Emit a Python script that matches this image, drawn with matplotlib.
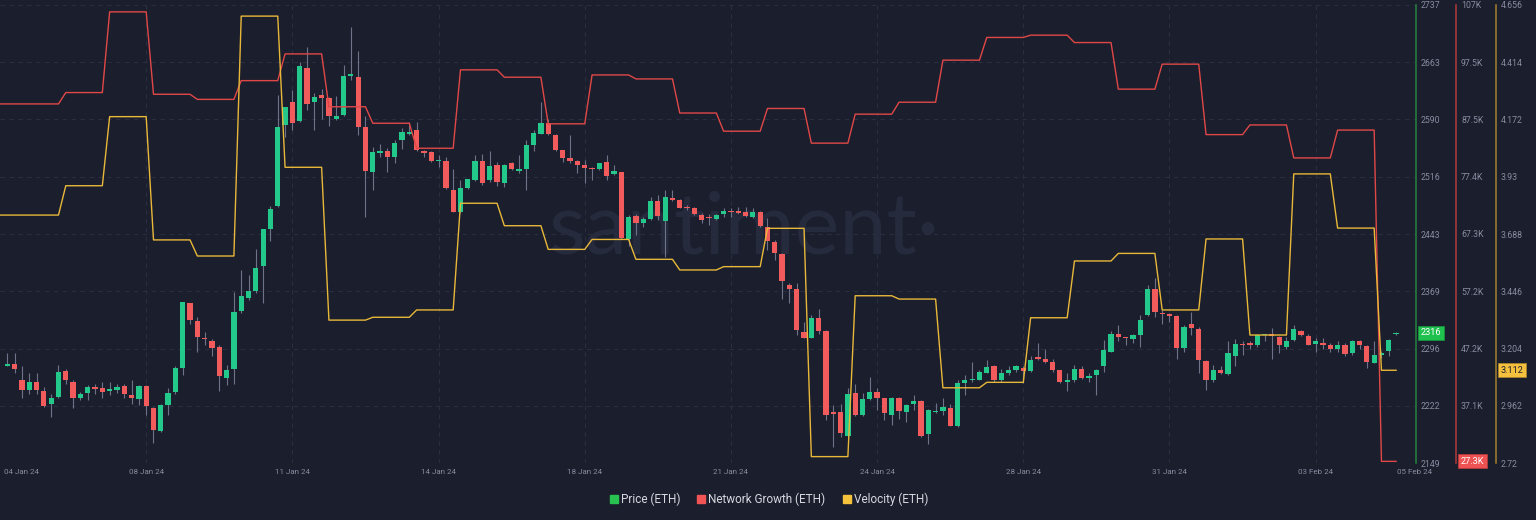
import numpy as np
import pandas as pd
import matplotlib
matplotlib.use("Agg")
import matplotlib.pyplot as plt
import matplotlib.dates as mdates
from matplotlib.lines import Line2D

plt.rcParams['font.family'] = ['Roboto', 'DejaVu Sans']

# 4h ETH candles, first one at 04 Jan 20:00
candle_start = "2024-01-04 20:00"
opens = [2274, 2276, 2255, 2243, 2253, 2242, 2225, 2234, 2267, 2253, 2233, 2239, 2246, 2245, 2242, 2243,
         2248, 2236, 2231, 2248, 2220, 2190, 2224, 2240, 2271, 2355, 2331, 2310, 2306, 2298, 2258, 2270,
         2344, 2361, 2370, 2402, 2449, 2479, 2583, 2612, 2588, 2656, 2612, 2621, 2618, 2591, 2596, 2646,
         2645, 2580, 2522, 2547, 2549, 2542, 2564, 2571, 2576, 2549, 2548, 2537, 2537, 2499, 2471, 2502,
         2512, 2537, 2512, 2531, 2509, 2534, 2524, 2527, 2557, 2572, 2585, 2570, 2551, 2540, 2537, 2531,
         2528, 2527, 2535, 2520, 2522, 2436, 2466, 2457, 2462, 2485, 2460, 2489, 2487, 2478, 2476, 2467,
         2465, 2462, 2469, 2473, 2472, 2471, 2465, 2471, 2452, 2433, 2417, 2378, 2373, 2317, 2310, 2335,
         2318, 2214, 2214, 2184, 2239, 2210, 2231, 2240, 2232, 2210, 2232, 2215, 2225, 2229, 2186, 2215,
         2216, 2220, 2196, 2252, 2255, 2256, 2265, 2273, 2256, 2264, 2268, 2271, 2267, 2285, 2282, 2279,
         2268, 2253, 2255, 2270, 2258, 2262, 2273, 2292, 2315, 2310, 2308, 2313, 2339, 2373, 2342, 2340,
         2338, 2297, 2327, 2321, 2280, 2255, 2268, 2263, 2287, 2301, 2303, 2300, 2313, 2315, 2311, 2298,
         2307, 2319, 2312, 2302, 2303, 2300, 2295, 2300, 2290, 2305, 2299, 2278, 2288, 2293, 2314]
highs = [2290, 2290, 2273, 2264, 2265, 2247, 2238, 2275, 2270, 2255, 2240, 2249, 2251, 2253, 2253, 2251,
         2251, 2255, 2249, 2249, 2221, 2225, 2245, 2273, 2356, 2355, 2337, 2317, 2308, 2300, 2275, 2369,
         2397, 2390, 2424, 2450, 2479, 2621, 2606, 2628, 2664, 2683, 2624, 2629, 2619, 2620, 2660, 2709,
         2678, 2594, 2555, 2558, 2553, 2564, 2579, 2587, 2587, 2551, 2549, 2544, 2542, 2527, 2512, 2514,
         2544, 2546, 2549, 2535, 2533, 2536, 2544, 2564, 2576, 2613, 2591, 2572, 2551, 2570, 2538, 2538,
         2529, 2534, 2544, 2531, 2523, 2467, 2469, 2465, 2491, 2493, 2499, 2499, 2488, 2480, 2478, 2470,
         2469, 2469, 2476, 2476, 2478, 2478, 2477, 2472, 2463, 2435, 2418, 2380, 2380, 2330, 2339, 2347,
         2320, 2223, 2225, 2245, 2250, 2239, 2260, 2245, 2233, 2234, 2234, 2225, 2236, 2230, 2218, 2226,
         2232, 2225, 2255, 2262, 2279, 2268, 2281, 2275, 2270, 2273, 2275, 2273, 2286, 2303, 2296, 2282,
         2269, 2264, 2275, 2273, 2264, 2270, 2307, 2318, 2326, 2311, 2315, 2339, 2377, 2386, 2345, 2342,
         2339, 2326, 2343, 2323, 2281, 2275, 2273, 2306, 2308, 2305, 2305, 2315, 2315, 2322, 2312, 2311,
         2326, 2320, 2314, 2310, 2310, 2303, 2305, 2303, 2307, 2307, 2300, 2306, 2293, 2308, 2317]
lows = [2273, 2265, 2233, 2238, 2238, 2221, 2208, 2232, 2251, 2219, 2230, 2230, 2238, 2232, 2236, 2239,
        2232, 2225, 2223, 2210, 2175, 2189, 2210, 2238, 2262, 2328, 2292, 2300, 2286, 2242, 2249, 2250,
        2341, 2358, 2367, 2354, 2434, 2478, 2568, 2576, 2587, 2602, 2577, 2591, 2582, 2589, 2594, 2641,
        2570, 2465, 2500, 2542, 2522, 2534, 2552, 2570, 2550, 2542, 2536, 2529, 2501, 2471, 2470, 2501,
        2511, 2506, 2510, 2504, 2503, 2525, 2521, 2499, 2549, 2571, 2570, 2550, 2536, 2534, 2521, 2509,
        2512, 2525, 2512, 2519, 2437, 2427, 2442, 2452, 2461, 2461, 2414, 2486, 2476, 2474, 2467, 2457,
        2454, 2461, 2465, 2465, 2469, 2465, 2464, 2452, 2422, 2410, 2360, 2354, 2313, 2309, 2309, 2315,
        2204, 2170, 2183, 2183, 2209, 2209, 2230, 2217, 2204, 2198, 2206, 2202, 2217, 2183, 2173, 2213,
        2210, 2196, 2195, 2236, 2253, 2255, 2264, 2253, 2253, 2262, 2266, 2252, 2266, 2281, 2277, 2266,
        2252, 2241, 2253, 2257, 2253, 2236, 2266, 2291, 2305, 2300, 2303, 2298, 2338, 2337, 2328, 2330,
        2282, 2292, 2313, 2264, 2243, 2253, 2263, 2262, 2273, 2288, 2296, 2298, 2305, 2283, 2290, 2296,
        2305, 2312, 2300, 2292, 2296, 2292, 2291, 2286, 2288, 2296, 2271, 2277, 2284, 2286, 2313]
closes = [2276, 2270, 2243, 2253, 2243, 2222, 2233, 2266, 2255, 2233, 2237, 2247, 2244, 2240, 2244, 2247,
          2238, 2232, 2248, 2222, 2191, 2224, 2239, 2271, 2356, 2332, 2311, 2308, 2297, 2261, 2268, 2343,
          2363, 2370, 2399, 2450, 2475, 2581, 2606, 2586, 2659, 2610, 2619, 2618, 2594, 2594, 2646, 2648,
          2580, 2524, 2548, 2550, 2542, 2560, 2574, 2574, 2551, 2547, 2537, 2538, 2502, 2471, 2502, 2513,
          2537, 2508, 2530, 2510, 2531, 2526, 2526, 2557, 2573, 2586, 2571, 2551, 2541, 2537, 2531, 2528,
          2526, 2534, 2517, 2524, 2438, 2465, 2457, 2462, 2486, 2466, 2490, 2487, 2477, 2476, 2469, 2461,
          2464, 2467, 2472, 2471, 2470, 2466, 2471, 2453, 2434, 2418, 2383, 2373, 2320, 2310, 2335, 2318,
          2210, 2212, 2187, 2238, 2210, 2231, 2240, 2232, 2213, 2232, 2216, 2223, 2229, 2184, 2217, 2216,
          2221, 2197, 2252, 2255, 2257, 2266, 2272, 2256, 2264, 2268, 2273, 2267, 2281, 2282, 2279, 2268,
          2253, 2255, 2270, 2258, 2261, 2269, 2294, 2315, 2311, 2309, 2313, 2333, 2373, 2343, 2340, 2338,
          2297, 2323, 2322, 2281, 2255, 2268, 2264, 2290, 2302, 2300, 2300, 2313, 2315, 2312, 2300, 2306,
          2321, 2313, 2301, 2305, 2301, 2295, 2300, 2289, 2305, 2301, 2279, 2288, 2290, 2307, 2316]

# daily metrics, one value per day (the day changes at 04:00 on this chart)
day_start = "2024-01-04 04:00"
network_growth_k = [90.2, 90.2, 92.2, 106.4, 91.9, 91.0, 94.3, 99.0, 89.7, 86.8, 82.4, 96.2, 94.9,
                    86.7, 95.3, 94.6, 88.6, 85.4, 89.4, 83.3, 88.4, 90.5, 97.9, 101.9, 102.3, 101.0,
                    92.8, 97.2, 84.8, 86.5, 80.7, 85.6, 27.3]
velocity = [3.768, 3.768, 3.892, 4.184, 3.663, 3.595, 4.609, 3.970, 3.324, 3.336, 3.367, 3.818, 3.723,
            3.623, 3.665, 3.581, 3.536, 3.550, 3.712, 2.747, 3.427, 3.413, 3.038, 3.061, 3.334, 3.574,
            3.606, 3.367, 3.667, 3.261, 3.942, 3.713, 3.112]

price_lim = (2149, 2737)
ng_lim = (27.01, 107.61)
vel_lim = (2.72, 4.656)

bg = "#1b1e2c"
grid_c = "#2a2e40"
tick_c = "#878ca0"
green = "#22c98a"
red = "#f25b5b"
line_red = "#e04848"
line_yel = "#e8b83a"
fs = 6.3

t_c = pd.date_range(candle_start, periods=len(opens), freq="4h")
t_l = pd.date_range(t_c[0] - pd.Timedelta("4h"), t_c[-1], freq="4h")
days = pd.date_range(day_start, periods=len(velocity), freq="D")
ng = pd.Series(network_growth_k, index=days).reindex(t_l, method="ffill")
vel = pd.Series(velocity, index=days).reindex(t_l, method="ffill")

o = np.array(opens, float)
h = np.array(highs, float)
l = np.array(lows, float)
c = np.array(closes, float)
up = c >= o
cols = np.where(up, green, red)

fig = plt.figure(figsize=(15.36, 5.2), dpi=100, facecolor=bg)
ax = fig.add_axes([0.0, 0.1096, 0.9217, 0.8808])
ax.set_facecolor(bg)

ax.text(0.5255, 0.4585, "santiment·", transform=ax.transAxes, fontsize=61, color="#252a3c",
        family=["Lato", "DejaVu Sans"], ha="center", va="baseline", zorder=0)

ax.vlines(t_c, l, h, color="#6e7389", lw=0.8, zorder=2)
body = np.maximum(np.abs(c - o), 1.4)
ax.bar(t_c, body, bottom=np.minimum(o, c), width=0.12, color=cols, lw=0, zorder=3)

ax.set_xlim(t_l[0], pd.Timestamp("2024-02-05 22:45"))
ax.set_ylim(*price_lim)
ax.set_xticks(pd.date_range("2024-01-08 00:00", periods=9, freq="80h"))
ax.xaxis.set_major_formatter(mdates.DateFormatter("%d %b %y"))
ax.tick_params(axis="x", length=0, pad=4, labelsize=5.8, colors=tick_c)
ax.grid(True, color=grid_c, lw=0.8, ls=(0, (4, 4)))
ax.set_axisbelow(True)

# edge date labels
ax.annotate(t_l[0].strftime("%d %b %y"), xy=(0, 0), xycoords="axes fraction", xytext=(3, -8.5),
            textcoords="offset points", ha="left", va="bottom", fontsize=5.8, color=tick_c)
ax.annotate(pd.Timestamp("2024-02-05").strftime("%d %b %y"), xy=(1, 0), xycoords="axes fraction",
            xytext=(-1, -8.5), textcoords="offset points", ha="center", va="bottom", fontsize=5.8,
            color=tick_c)

ax_ng = ax.twinx()
ax_ng.plot(t_l, ng.values, color=line_red, lw=1.0, zorder=4)
ax_ng.set_ylim(*ng_lim)
ng_t = np.linspace(*ng_lim, 9)
ax_ng.set_yticks(ng_t)
ax_ng.set_yticklabels([f"{int(v)}K" if v >= 100 else f"{v:.1f}K" for v in ng_t])
ax_ng.spines["right"].set_position(("outward", 29))
ax_ng.spines["right"].set_color("#b23c3c")

ax_vel = ax.twinx()
ax_vel.plot(t_l, vel.values, color=line_yel, lw=1.0, zorder=4)
ax_vel.set_ylim(*vel_lim)
vel_t = np.linspace(*vel_lim, 9)
ax_vel.set_yticks(vel_t)
ax_vel.set_yticklabels([f"{v:.3f}".rstrip("0") for v in vel_t])
ax_vel.spines["right"].set_position(("outward", 57.8))
ax_vel.spines["right"].set_color("#a3802c")

# price axis on the right too (twinx moved it left)
ax.yaxis.tick_right()
pr_t = np.linspace(*price_lim, 9)
ax.set_yticks(pr_t)
ax.set_yticklabels([f"{int(v)}" for v in pr_t])
ax.spines["right"].set_visible(True)
ax.spines["right"].set_color("#23843f")

for a in (ax, ax_ng, ax_vel):
    a.tick_params(axis="y", which="both", left=False, right=True, labelleft=False, labelright=True,
                  length=0, pad=3.6, labelsize=fs, colors=tick_c)
    a.spines["right"].set_linewidth(1.1)
    for s in ["top", "left", "bottom"]:
        a.spines[s].set_visible(False)

# last value badges
badge = dict(ha="left", va="center", fontsize=6.6, textcoords="offset points", zorder=10)
ax.annotate(f"{c[-1]:.0f}", xy=(1, c[-1]), xycoords=ax.get_yaxis_transform(), xytext=(3.8, 0),
            color="white", bbox=dict(boxstyle="square,pad=0.28", fc="#20c04f", ec="#17923c", lw=0.6),
            **badge)
ax_ng.annotate(f"{network_growth_k[-1]:.1f}K", xy=(1, network_growth_k[-1]),
               xycoords=ax_ng.get_yaxis_transform(), xytext=(29 + 3.4, 0), color="white",
               bbox=dict(boxstyle="square,pad=0.28", fc="#ef5252", ec="#b53a3a", lw=0.6), **badge)
ax_vel.annotate(f"{velocity[-1]:.3f}", xy=(1, velocity[-1]), xycoords=ax_vel.get_yaxis_transform(),
                xytext=(57.8 + 3.4, 0), color="#1b1e2c",
                bbox=dict(boxstyle="square,pad=0.28", fc="#f4c03e", ec="#a8842c", lw=0.6), **badge)

handles = [Line2D([], [], marker="s", ls="none", markersize=6, color=cc)
           for cc in ("#27c24f", "#f05454", "#f5c23c")]
fig.legend(handles, ["Price (ETH)", "Network Growth (ETH)", "Velocity (ETH)"], loc="center",
           bbox_to_anchor=(0.5, 0.04), ncol=3, frameon=False, fontsize=8.5, labelcolor="#d6d8e0",
           handletextpad=0.1, columnspacing=1.3, handlelength=1.0)

fig.savefig("out.png", dpi=100, facecolor=bg)
